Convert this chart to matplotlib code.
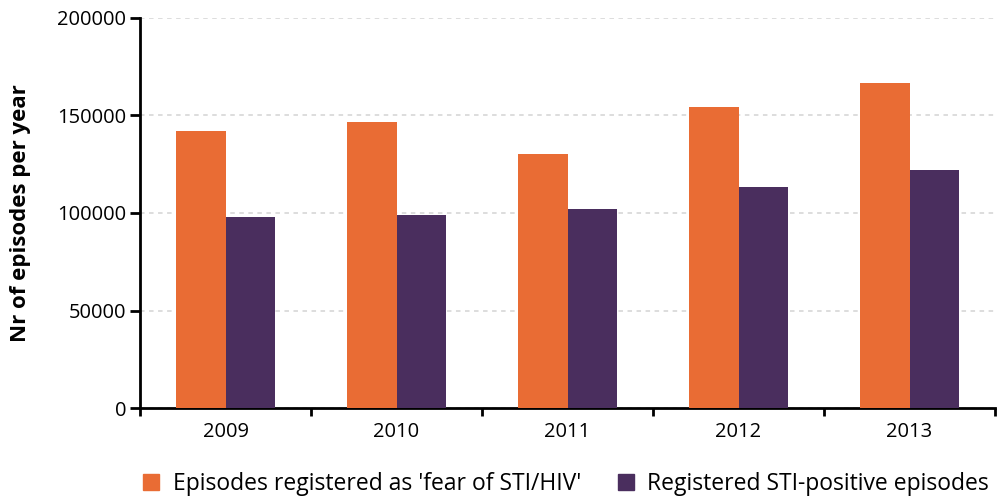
import numpy as np
import matplotlib.pyplot as plt
from matplotlib.patches import Patch

YEARS = ["2009", "2010", "2011", "2012", "2013"]
FEAR = [142000, 146600, 130200, 154300, 166500]
POSITIVE = [98000, 99000, 102000, 113300, 122000]
SERIES_NAMES = ["Episodes registered as 'fear of STI/HIV'", "Registered STI-positive episodes"]

ORANGE = "#E96C34"
PURPLE = "#4A2E5E"

plt.rcParams['font.family'] = ['Open Sans', 'DejaVu Sans']

fig = plt.figure(figsize=(10, 4.99), dpi=100)
ax = fig.add_axes([0.14, 0.1816, 0.855, 0.7831])

x = np.arange(len(YEARS))
w = 0.287
ax.bar(x - w / 2, FEAR, width=w, color=ORANGE, zorder=3)
ax.bar(x + w / 2, POSITIVE, width=w, color=PURPLE, zorder=3)

ax.set_xlim(-0.5, len(YEARS) - 0.5)
ax.set_ylim(0, 200000)
ax.set_yticks([0, 50000, 100000, 150000, 200000])
ax.set_yticklabels(["0", "50000", "100000", "150000", "200000"], fontsize=14.5)

ax.set_xticks(x)
ax.set_xticklabels(YEARS, fontsize=14.5)
ax.tick_params(axis='x', length=0, pad=10)
ax.set_xticks(np.arange(-0.5, len(YEARS)), minor=True)
ax.tick_params(axis='x', which='minor', length=6, width=2, direction='out')
ax.tick_params(axis='y', length=7, width=2, direction='out', pad=3)

for s in ["top", "right"]:
    ax.spines[s].set_visible(False)
ax.spines["left"].set_linewidth(2)
ax.spines["bottom"].set_linewidth(2)

ax.yaxis.grid(True, color="#dadada", linestyle=(0, (2.5, 2.5)), linewidth=1.3, zorder=0)
ax.set_axisbelow(True)

ax.set_ylabel("Nr of episodes per year", fontsize=16, fontweight="bold", labelpad=19)

handles = [Patch(color=ORANGE), Patch(color=PURPLE)]
fig.legend(handles, SERIES_NAMES, loc="center", bbox_to_anchor=(0.566, 0.03), ncol=2,
           frameon=False, fontsize=16.5, handlelength=0.7, handleheight=0.7,
           handletextpad=0.6, columnspacing=1.6)

fig.savefig("out.png", dpi=100)
